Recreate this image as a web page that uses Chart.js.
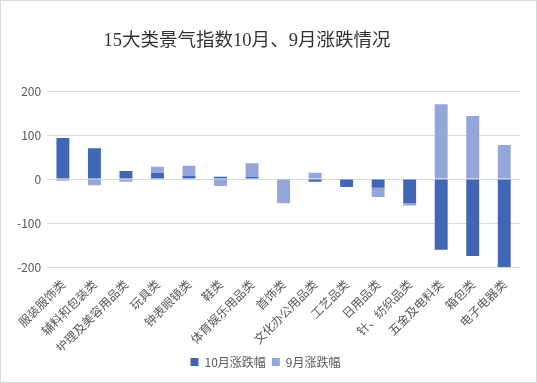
<!DOCTYPE html>
<html>
<head>
<meta charset="utf-8">
<script src="https://cdn.jsdelivr.net/npm/chart.js@4.4.1/dist/chart.umd.min.js"></script>
<style>
  html, body { margin: 0; padding: 0; background: #fff; }
  #marco { width: 537px; height: 383px; box-sizing: border-box; border: 1px solid #d9d9d9; position: relative; }
</style>
</head>
<body>
<div id="marco"><canvas id="grafica"></canvas></div>
<script>
// categorías y valores
const categorias = ["服装服饰类", "辅料和包装类", "护理及美容用品类", "玩具类", "钟表眼镜类", "鞋类",
  "体育娱乐用品类", "首饰类", "文化办公用品类", "工艺品类", "日用品类", "针、纺织品类",
  "五金及电料类", "箱包类", "电子电器类"];
const octubre = [93, 70, 18, 14, 7, 5, 5, 0, -6, -18, -20, -55, -161, -175, -200];
const septiembre = [-4, -14, -6, 14, 23, -16, 31, -55, 14, 0, -21, -5, 170, 143, 77];
const ticksY = [-200, -100, 0, 100, 200];

const titulo = "15大类景气指数10月、9月涨跌情况";
const gris = "#595959";

// dibuja el título un poco a la izquierda, como en el original
const tituloPlugin = {
  id: "tituloPlugin",
  afterDraw(chart) {
    const ctx = chart.ctx;
    ctx.save();
    ctx.fillStyle = "#333";
    ctx.font = "18.5px 'Liberation Serif', 'Noto Sans CJK SC'";
    ctx.textAlign = "center";
    ctx.textBaseline = "middle";
    ctx.fillText(titulo, 246, 40);
    ctx.restore();
  }
};

const ctx = document.getElementById("grafica").getContext("2d");
new Chart(ctx, {
  type: "bar",
  data: {
    labels: categorias,
    datasets: [
      { label: "10月涨跌幅", data: octubre, backgroundColor: "#4066b5", barPercentage: 0.41, categoryPercentage: 1 },
      { label: "9月涨跌幅", data: septiembre, backgroundColor: "#95a6da", barPercentage: 0.41, categoryPercentage: 1 }
    ]
  },
  options: {
    responsive: true,
    maintainAspectRatio: false,
    animation: false,
    layout: { padding: { top: 90, right: 16, bottom: 4, left: 10 } },
    plugins: {
      legend: {
        position: "bottom",
        labels: { color: gris, font: { size: 12, family: "'Noto Sans CJK SC'" }, boxWidth: 8, boxHeight: 8, padding: 6 }
      },
      tooltip: { enabled: false }
    },
    scales: {
      x: {
        stacked: true,
        grid: { display: false },
        border: { display: false },
        ticks: { color: gris, font: { size: 12, family: "'Noto Sans CJK SC'" }, minRotation: 45, maxRotation: 45, autoSkip: false, padding: 2 },
        afterFit: axis => { axis.height = 83; }
      },
      y: {
        stacked: true,
        min: -200,
        max: 200,
        afterBuildTicks: axis => { axis.ticks = ticksY.map(v => ({ value: v })); },
        grid: { color: "#d9d9d9", drawTicks: false },
        border: { display: false },
        ticks: { color: gris, font: { size: 12, family: "'Noto Sans CJK SC'" }, padding: 6 }
      }
    }
  },
  plugins: [tituloPlugin]
});
</script>
</body>
</html>
